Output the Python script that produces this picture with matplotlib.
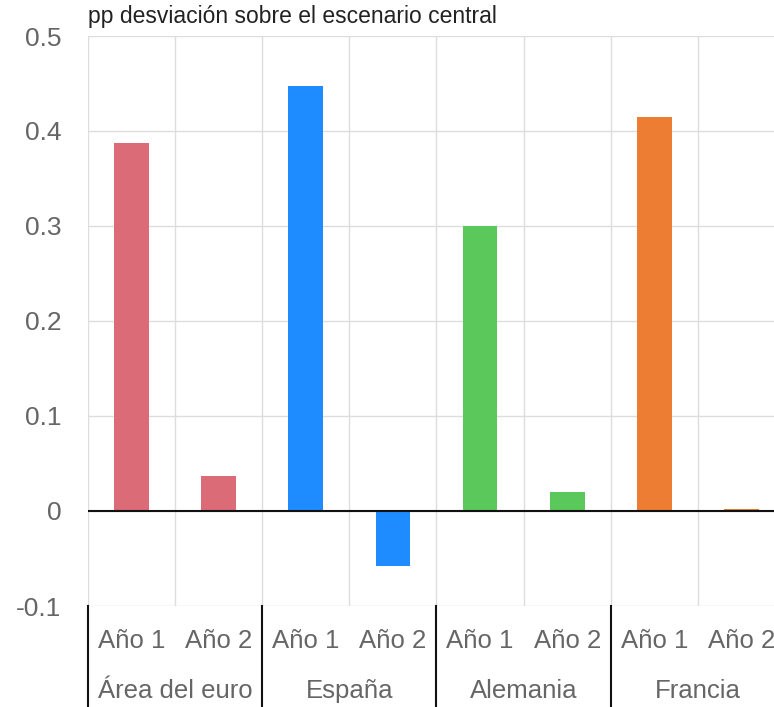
import matplotlib
matplotlib.use("Agg")
import matplotlib.pyplot as plt
import matplotlib.transforms as mtransforms
import numpy as np

plt.rcParams['font.family'] = ['Liberation Sans', 'DejaVu Sans']

regiones = ["Área del euro", "España", "Alemania", "Francia"]
anios = ["Año 1", "Año 2"]
colores = ["#DB6B77", "#1E8CFF", "#5BC85B", "#EC7D32"]
valores = {
    "Área del euro": [0.387, 0.037],
    "España": [0.447, -0.058],
    "Alemania": [0.300, 0.020],
    "Francia": [0.415, 0.002],
}
yticks = [-0.1, 0, 0.1, 0.2, 0.3, 0.4, 0.5]
ytick_labels = ["-0.1", "0", "0.1", "0.2", "0.3", "0.4", "0.5"]

fig = plt.figure(figsize=(7.74, 7.07), dpi=100)
ax = fig.add_axes([88 / 774, 1 - 606 / 707, 697 / 774, 570 / 707])

x = np.arange(len(regiones) * len(anios))
for i, reg in enumerate(regiones):
    pos = x[i * 2:(i + 1) * 2]
    ax.bar(pos, valores[reg], width=0.4, color=colores[i], zorder=3)

ax.set_xlim(-0.5, len(x) - 0.5)
ax.set_ylim(-0.1, 0.5)
ax.set_yticks(yticks)
ax.set_yticklabels(ytick_labels)
ax.tick_params(axis='y', length=0, pad=19, labelsize=19, labelcolor="#666666")
ax.set_xticks([])
for s in ax.spines.values():
    s.set_visible(False)

# rejilla
for yv in yticks:
    ax.axhline(yv, color="#DDDDDD", lw=1, zorder=1)
for xv in np.arange(-0.5, len(x), 1.0):
    ax.axvline(xv, color="#DDDDDD", lw=1, zorder=1)
ax.axhline(0, color="#111111", lw=1.5, zorder=4)

# etiquetas del eje x en dos niveles
trans = mtransforms.blended_transform_factory(ax.transData, ax.transAxes)
y_anio = -(641 - 606) / 570
y_reg = -(691 - 606) / 570
y_fin = -(707 - 606) / 570
for i, reg in enumerate(regiones):
    for j, a in enumerate(anios):
        ax.text(i * 2 + j, y_anio, a, transform=trans, ha='center', va='center',
                fontsize=18.5, color="#666666")
    ax.text(i * 2 + 0.5, y_reg, reg, transform=trans, ha='center', va='center',
            fontsize=18.5, color="#666666")
for xb in np.arange(-0.5, len(x), 2.0):
    ax.plot([xb, xb], [0, y_fin - 0.02], transform=trans, color="#111111",
            lw=1.5, clip_on=False)

fig.text(88 / 774, 1 - 17 / 707, "pp desviación sobre el escenario central",
         ha='left', va='center', fontsize=16.5, color="#222222")

fig.savefig("out.png", dpi=100)
